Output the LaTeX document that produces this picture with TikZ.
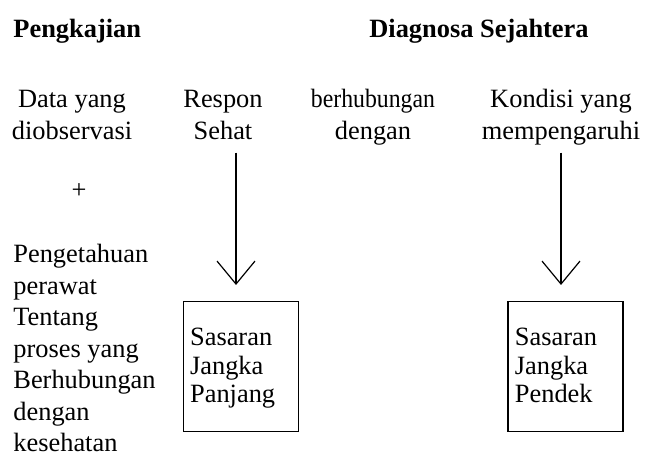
\documentclass[tikz,border=0pt]{standalone}
\usepackage{fontspec}
\setmainfont{Liberation Serif}
\usetikzlibrary{arrows.meta,positioning}

\begin{document}
\begin{tikzpicture}[x=0.5pt,y=-0.5pt,
    txt/.style={inner sep=0pt,align=center,font=\fontsize{13.2}{15.75}\selectfont},
    goal/.style={draw,line width=0.6pt,minimum width=57.5pt,inner ysep=0pt,
      inner xsep=3.5pt,text width=50.5pt,align=left,font=\fontsize{13.2}{14.25}\selectfont},
    down/.style={line width=0.6pt,-{Straight Barb[length=11.5pt,width=19pt]},shorten >=7.85pt}]
  \useasboundingbox (0,0) rectangle (654,459);
  % headings
  \node[txt,anchor=base west,font=\fontsize{13.2}{15.75}\selectfont\bfseries] (pengkajian) at (13,38) {Pengkajian};
  \node[txt,anchor=base,font=\fontsize{13.2}{15.75}\selectfont\bfseries] (diagnosa) at (479,38) {Diagnosa Sejahtera};
  % second row (base = last line)
  \node[txt,anchor=base] (data) at (72,139.5) {Data yang\\diobservasi};
  \node[txt,anchor=base] (respon) at (223,139.5) {Respon\\Sehat};
  \node[txt,anchor=base] (hub) at (373,139.5) {\scalebox{0.9}[1]{berhubungan}\\dengan};
  \node[txt,anchor=base] (kondisi) at (561,139.5) {Kondisi yang\\mempengaruhi};
  \node[txt] (plus) at (79,191) {+};
  % left column
  \node[txt,anchor=base west,align=left] (tahu) at (13,452)
    {Pengetahuan\\perawat\\Tentang\\proses yang\\Berhubungan\\dengan\\kesehatan};
  % goals
  \node[goal,anchor=north west] (panjang) at (182.5,300.7)
    {\rule{0pt}{22.15pt}Sasaran\\Jangka\\Panjang\rule[-14.35pt]{0pt}{0pt}};
  \node[goal,anchor=north west] (pendek) at (507.3,300.7)
    {\rule{0pt}{22.15pt}Sasaran\\Jangka\\Pendek\rule[-14.35pt]{0pt}{0pt}};
  \coordinate (ra) at (236,152.7);
  \coordinate (rb) at (561,152.7);
  \draw[down] (ra) -- (ra |- panjang.north);
  \draw[down] (rb) -- (rb |- pendek.north);
\end{tikzpicture}
\end{document}
